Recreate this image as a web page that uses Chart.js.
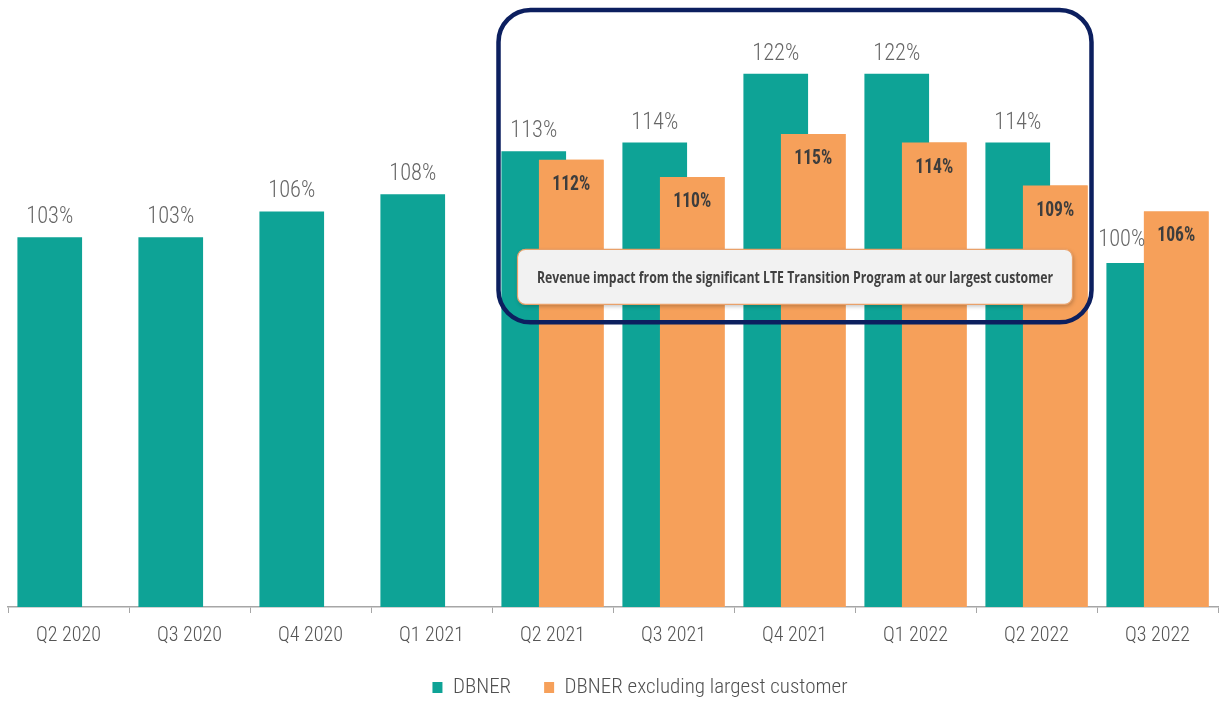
<!DOCTYPE html>
<html><head><meta charset="utf-8">
<script src="https://cdn.jsdelivr.net/npm/chart.js@4.4.1/dist/chart.umd.min.js"></script>
<style>html,body{margin:0;padding:0;background:#fff;}#wrap{width:1220px;height:704px;position:relative}</style>
</head><body><div id="wrap"><canvas id="c" width="1220" height="704"></canvas></div>
<script>
const categories = ['Q2 2020','Q3 2020','Q4 2020','Q1 2021','Q2 2021','Q3 2021','Q4 2021','Q1 2022','Q2 2022','Q3 2022'];
const dbner = [103,103,106,108,113,114,122,122,114,100];
const dbnerExcl = [null,null,null,null,112,110,115,114,109,106];
const seriesNames = ['DBNER','DBNER excluding largest customer'];
const calloutText = 'Revenue impact from the significant LTE Transition Program at our largest customer';

const TEAL='#0ea396', ORANGE='#f6a05a';
const FONT='"Roboto Condensed", "DejaVu Sans Condensed", Lato, sans-serif';

function drawScaledText(ctx, text, x, y, font, color, targetW, baseline){
  ctx.save();
  ctx.font=font; ctx.fillStyle=color; ctx.textAlign='center'; ctx.textBaseline=baseline||'alphabetic';
  const w=ctx.measureText(text).width;
  const sx = targetW ? targetW/w : 1;
  ctx.translate(x,y); ctx.scale(sx,1);
  ctx.fillText(text,0,0);
  ctx.restore();
}
function rr(ctx,x,y,w,h,r){
  ctx.beginPath();
  ctx.moveTo(x+r,y); ctx.lineTo(x+w-r,y); ctx.arcTo(x+w,y,x+w,y+r,r);
  ctx.lineTo(x+w,y+h-r); ctx.arcTo(x+w,y+h,x+w-r,y+h,r);
  ctx.lineTo(x+r,y+h); ctx.arcTo(x,y+h,x,y+h-r,r);
  ctx.lineTo(x,y+r); ctx.arcTo(x,y,x+r,y,r); ctx.closePath();
}

const overlay = {
  id:'overlay',
  afterLayout(chart){
    // legend is centred a little right of the canvas centre
    const lg=chart.legend; if(lg){ lg.left+=27; lg.right+=27; }
  },
  afterDatasetsDraw(chart){
    const ctx=chart.ctx, xs=chart.scales.x, ys=chart.scales.y, ca=chart.chartArea;
    // orange bars drawn over the teal ones
    const m1=chart.getDatasetMeta(1), m0=chart.getDatasetMeta(0);
    ctx.save(); ctx.beginPath(); ctx.rect(ca.left,ca.top,ca.right-ca.left,ca.bottom-ca.top); ctx.clip();
    m1.data.forEach((el,i)=>{ if(dbnerExcl[i]!=null) el.draw(ctx); });
    ctx.restore();
    // value labels
    m0.data.forEach((el,i)=>{ const v=dbner[i]; if(v==null) return;
      const hidden = dbnerExcl[i]!=null && dbnerExcl[i]>v;
      drawScaledText(ctx, v+'%', hidden ? el.x-17 : el.x, hidden ? el.y-17 : el.y-14, '300 23px '+FONT, '#666666', 47);
    });
    m1.data.forEach((el,i)=>{ const v=dbnerExcl[i]; if(v==null) return;
      drawScaledText(ctx, v+'%', el.x, el.y+30, 'bold 21px '+FONT, '#3d3d3d', 38);
    });
    // rounded navy box
    const bl = xs.getPixelForValue(4)-54, br = xs.getPixelForValue(8)+55;
    const bt = ca.top+5, bb = ys.getPixelForValue(93.1);
    ctx.save();
    ctx.strokeStyle='#0c1f5f'; ctx.lineWidth=4.5;
    rr(ctx, bl, bt, br-bl, bb-bt, 32); ctx.stroke();
    // callout
    const cl=bl+19, cr=br-19, ct=bb-73, cb=bb-18;
    ctx.shadowColor='rgba(0,0,0,0.25)'; ctx.shadowBlur=4; ctx.shadowOffsetX=1; ctx.shadowOffsetY=2;
    rr(ctx, cl, ct, cr-cl, cb-ct, 8); ctx.fillStyle='#f2f2f2'; ctx.fill();
    ctx.shadowColor='transparent';
    ctx.strokeStyle='#e9a16a'; ctx.lineWidth=1.2; ctx.stroke();
    ctx.restore();
    drawScaledText(ctx, calloutText, (cl+cr)/2, (ct+cb)/2+1, 'bold 16.5px "Open Sans"', '#404040', 516, 'middle');
  }
};

new Chart(document.getElementById('c'), {
  type:'bar',
  data:{
    labels:categories,
    datasets:[
      {label:seriesNames[0], data:dbner, backgroundColor:TEAL, categoryPercentage:0.62, barPercentage:1.724},
      {label:seriesNames[1], data:dbnerExcl, backgroundColor:ORANGE, categoryPercentage:0.62, barPercentage:1.724}
    ]
  },
  options:{
    responsive:false, animation:false, devicePixelRatio:1,
    layout:{padding:{left:8,right:2,top:5,bottom:0}},
    plugins:{
      tooltip:{enabled:false},
      legend:{position:'bottom', maxHeight:60,
        labels:{color:'#505050', font:{family:FONT, size:21, weight:'300'}, boxWidth:10, boxHeight:11, padding:33}}
    },
    scales:{
      x:{
        afterFit(scale){ scale.height = 37; },
        grid:{display:true, drawOnChartArea:false, drawTicks:true, tickLength:6, color:'#a6a6a6', offset:true},
        border:{display:true, color:'#a6a6a6', width:1.5},
        ticks:{color:'#555555', font:{family:FONT, size:20, weight:'300', lineHeight:1.2}, padding:11, autoSkip:false, maxRotation:0}
      },
      y:{display:false, min:60, max:130}
    }
  },
  plugins:[overlay]
});
</script>
</body></html>
